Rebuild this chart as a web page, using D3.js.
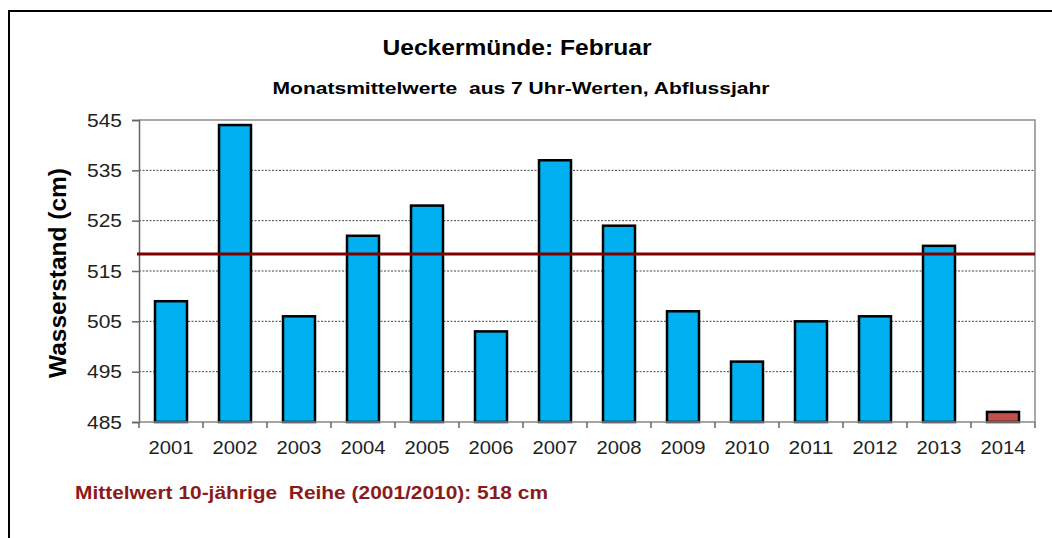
<!DOCTYPE html>
<html><head><meta charset="utf-8">
<script src="https://cdn.jsdelivr.net/npm/d3@7"></script>
<style>body{margin:0;background:#fff;}svg{display:block;font-family:"Liberation Sans",Arial,sans-serif;}</style>
</head><body>
<script>
const years = ["2001","2002","2003","2004","2005","2006","2007","2008","2009","2010","2011","2012","2013","2014"];
const values = [509,544,506,522,528,503,537,524,507,497,505,506,520,487];
const yTicks = [485,495,505,515,525,535,545];
const meanValue = 518.4;
const title = "Ueckermünde: Februar";
const subtitle = "Monatsmittelwerte  aus 7 Uhr-Werten, Abflussjahr";
const yTitle = "Wasserstand (cm)";
const footer = "Mittelwert 10-jährige  Reihe (2001/2010): 518 cm";

const W = 1052, H = 538;
const m = {l:139, r:1035, t:120, b:422};
const svg = d3.select("body").append("svg").attr("width",W).attr("height",H);
svg.append("rect").attr("width",W).attr("height",H).attr("fill","#fff");
svg.append("path").attr("d",`M9,${H+5}V11H${W+5}`).attr("fill","none").attr("stroke","#000").attr("stroke-width",2);

const x = d3.scaleBand().domain(years).range([m.l,m.r]).paddingInner(0.5).paddingOuter(0.25);
const y = d3.scaleLinear().domain([485,545]).range([m.b,m.t]);

// gridlines
svg.append("g").selectAll("line").data(yTicks.filter(t=>t>485 && t<545)).join("line")
  .attr("x1",m.l).attr("x2",m.r).attr("y1",d=>y(d)).attr("y2",d=>y(d))
  .attr("stroke","#444").attr("stroke-width",1).attr("stroke-dasharray","2,1.5");
// top and right border
svg.append("path").attr("d",`M${m.l},${y(545)}H${m.r}V${m.b}`).attr("fill","none").attr("stroke","#8c8c8c").attr("stroke-width",1.5);

// bars
svg.append("g").selectAll("rect").data(values).join("rect")
  .attr("x",(d,i)=>x(years[i])).attr("width",x.bandwidth())
  .attr("y",d=>y(d)).attr("height",d=>y(485)-y(d))
  .attr("fill",(d,i)=>i===years.length-1?"#c0504d":"#00b0f0")
  .attr("stroke","#000").attr("stroke-width",2.5);

// axes
const yAxis = d3.axisLeft(y).tickValues(yTicks).tickSize(7).tickPadding(10);
const gy = svg.append("g").attr("transform",`translate(${m.l},0)`).call(yAxis);
gy.select(".domain").attr("stroke","#666").attr("stroke-width",1.5);
gy.selectAll(".tick line").attr("stroke","#666").attr("stroke-width",1.5);
gy.selectAll("text").attr("font-size",19).attr("fill","#222")
  .attr("textLength",35).attr("lengthAdjust","spacingAndGlyphs");

const xb = d3.scaleLinear().domain([0,years.length]).range([m.l,m.r]);
const gx = svg.append("g").attr("transform",`translate(0,${m.b})`);
gx.append("line").attr("x1",m.l).attr("x2",m.r).attr("stroke","#888").attr("stroke-width",1.5);
gx.selectAll(".tk").data(d3.range(years.length+1)).join("line").attr("class","tk")
  .attr("x1",d=>xb(d)).attr("x2",d=>xb(d)).attr("y1",0).attr("y2",6).attr("stroke","#666").attr("stroke-width",1.5);
gx.selectAll("text").data(years).join("text")
  .attr("x",d=>x(d)+x.bandwidth()/2).attr("y",32).attr("text-anchor","middle")
  .attr("font-size",19).attr("fill","#222")
  .attr("textLength",45).attr("lengthAdjust","spacingAndGlyphs").text(d=>d);

// mean line
svg.append("line").attr("x1",m.l-2).attr("x2",m.r).attr("y1",y(meanValue)).attr("y2",y(meanValue))
  .attr("stroke","#7f0000").attr("stroke-width",3);

// texts
svg.append("text").attr("x",517).attr("y",55).attr("text-anchor","middle").attr("font-size",22).attr("font-weight","bold")
  .attr("textLength",269).attr("lengthAdjust","spacingAndGlyphs").text(title);
svg.append("text").attr("x",521).attr("y",94).attr("text-anchor","middle").attr("font-size",17).attr("font-weight","bold")
  .attr("xml:space","preserve").style("white-space","pre")
  .attr("textLength",497).attr("lengthAdjust","spacingAndGlyphs").text(subtitle);
svg.append("text").attr("transform",`translate(66,273) rotate(-90)`).attr("text-anchor","middle").attr("font-size",23).attr("font-weight","bold")
  .attr("textLength",210).attr("lengthAdjust","spacingAndGlyphs").text(yTitle);
svg.append("text").attr("x",75).attr("y",499).attr("font-size",18).attr("font-weight","bold").attr("fill","#8b1a1a")
  .attr("xml:space","preserve").style("white-space","pre")
  .attr("textLength",473).attr("lengthAdjust","spacingAndGlyphs").text(footer);
</script>
</body></html>
